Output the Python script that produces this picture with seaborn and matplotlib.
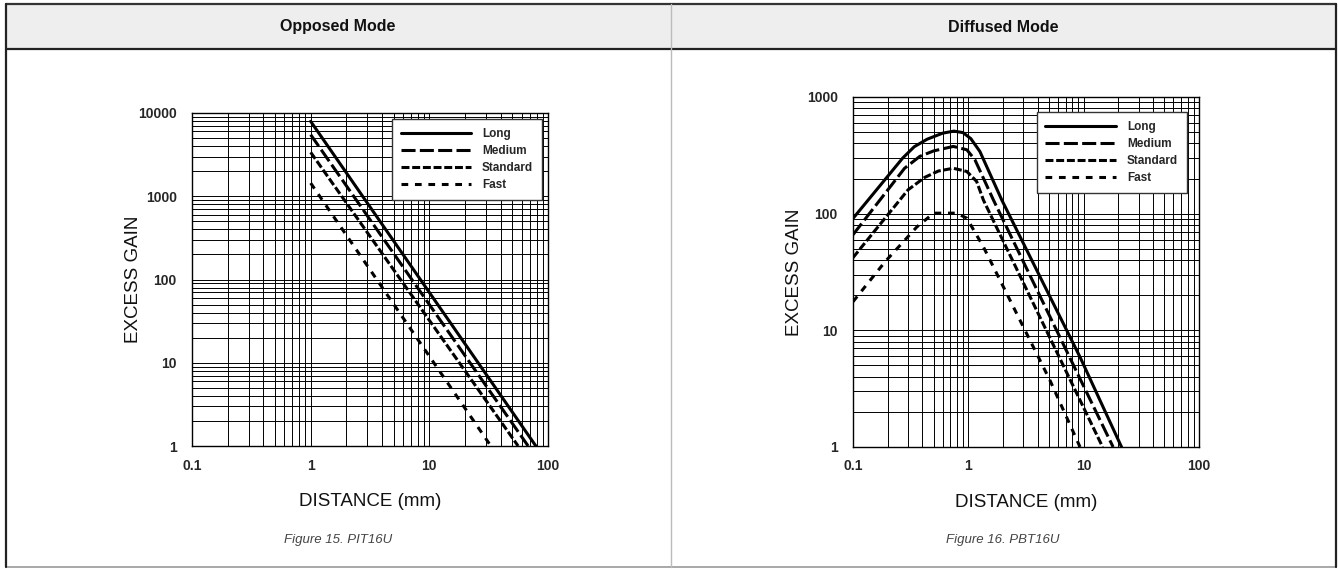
import numpy as np
import pandas as pd
import matplotlib
matplotlib.use("Agg")
import matplotlib.pyplot as plt
from matplotlib.lines import Line2D
from matplotlib.patches import Rectangle
from matplotlib.ticker import LogLocator, FixedLocator, FixedFormatter, NullFormatter
import seaborn as sns

# ---- data ----
modes = ["Long", "Medium", "Standard", "Fast"]

# Opposed mode (PIT16U): straight lines in log-log space
opp_long_x = [1, 79]
opp_long_y = [7940, 1]
opp_medium_x = [1, 68]
opp_medium_y = [5490, 1]
opp_standard_x = [1, 56]
opp_standard_y = [3370, 1]
opp_fast_x = [1, 33]
opp_fast_y = [1440, 1]

# Diffused mode (PBT16U)
dif_long_x = [0.1, 0.27, 0.34, 0.44, 0.6, 0.75, 0.9, 1.05, 1.26, 1.95, 9.3, 21.3]
dif_long_y = [91, 300, 375, 435, 490, 510, 495, 440, 341, 131, 5.9, 1]
dif_medium_x = [0.1, 0.28, 0.38, 0.5, 0.74, 0.97, 1.14, 1.65, 18]
dif_medium_y = [66, 245, 310, 345, 377, 353, 290, 131, 1]
dif_standard_x = [0.1, 0.3, 0.42, 0.55, 0.74, 0.97, 1.18, 1.35, 14.6]
dif_standard_y = [42, 160, 205, 232, 245, 230, 189, 131, 1]
dif_fast_x = [0.1, 0.19, 0.358, 0.5, 0.79, 0.97, 1.35, 1.88, 5.1, 9.3]
dif_fast_y = [17.6, 38.8, 77, 101, 101, 91.5, 52, 27, 3.73, 1]

x_ticks = [0.1, 1, 10, 100]
x_tick_labels = ["0.1", "1", "10", "100"]
opp_y_ticks = [1, 10, 100, 1000, 10000]
opp_y_tick_labels = ["1", "10", "100", "1000", "10000"]
dif_y_ticks = [1, 10, 100, 1000]
dif_y_tick_labels = ["1", "10", "100", "1000"]


def to_frame(series):
    rows = []
    for name, xs, ys in series:
        for x, y in zip(xs, ys):
            rows.append({"mode": name, "distance": x, "gain": y})
    return pd.DataFrame(rows)


opp_df = to_frame([
    ("Long", opp_long_x, opp_long_y),
    ("Medium", opp_medium_x, opp_medium_y),
    ("Standard", opp_standard_x, opp_standard_y),
    ("Fast", opp_fast_x, opp_fast_y),
])
dif_df = to_frame([
    ("Long", dif_long_x, dif_long_y),
    ("Medium", dif_medium_x, dif_medium_y),
    ("Standard", dif_standard_x, dif_standard_y),
    ("Fast", dif_fast_x, dif_fast_y),
])

# ---- style ----
sns.set_style("white")
plt.rcParams["font.family"] = ["Liberation Sans", "DejaVu Sans"]

LW = 2.2
dash_map = {
    "Long": "",
    "Medium": (4.6, 1.4),
    "Standard": (2.6, 0.9),
    "Fast": (2.2, 2.2),
}

W, H = 1338, 569
fig = plt.figure(figsize=(W / 100, H / 100), dpi=100)


def px_rect(x0, y0, x1, y1):
    return [x0 / W, 1 - y1 / H, (x1 - x0) / W, (y1 - y0) / H]


# ---- table frame ----
fig.patches.append(Rectangle((6 / W, 1 - 49 / H), (1336 - 6) / W, 45 / H,
                             transform=fig.transFigure, facecolor="#eeeeee",
                             edgecolor="none", zorder=0))
def hline(y, x0, x1, color, lw):
    fig.add_artist(Line2D([x0 / W, x1 / W], [1 - y / H, 1 - y / H],
                          transform=fig.transFigure, color=color, linewidth=lw))
def vline(x, y0, y1, color, lw):
    fig.add_artist(Line2D([x / W, x / W], [1 - y0 / H, 1 - y1 / H],
                          transform=fig.transFigure, color=color, linewidth=lw))

hline(4, 6, 1336, "#333333", 1.6)
hline(49, 6, 1336, "#222222", 1.6)
hline(567, 6, 1336, "#999999", 1.2)
vline(6, 4, 567, "#222222", 1.6)
vline(1336, 4, 567, "#222222", 1.6)
vline(671, 4, 567, "#bbbbbb", 1.0)

fig.text(338 / W, 1 - 27 / H, "Opposed Mode", ha="center", va="center",
         fontsize=11.5, fontweight="bold", color="#111111")
fig.text(1003 / W, 1 - 27 / H, "Diffused Mode", ha="center", va="center",
         fontsize=11.5, fontweight="bold", color="#111111")
fig.text(338 / W, 1 - 540 / H, "Figure 15. PIT16U", ha="center", va="center",
         fontsize=9.5, style="italic", color="#444444")
fig.text(1003 / W, 1 - 540 / H, "Figure 16. PBT16U", ha="center", va="center",
         fontsize=9.5, style="italic", color="#444444")


def draw_panel(rect, df, yticks, ylabels, ylim, legend_anchor, ylab_x, xlab_y):
    ax = fig.add_axes(rect)
    sns.lineplot(data=df, x="distance", y="gain", style="mode", style_order=modes,
                 dashes=dash_map, color="black", linewidth=LW, sort=False,
                 estimator=None, legend=False, ax=ax)
    ax.set_xscale("log")
    ax.set_yscale("log")
    ax.set_xlim(0.1, 100)
    ax.set_ylim(*ylim)
    ax.xaxis.set_major_locator(FixedLocator(x_ticks))
    ax.xaxis.set_major_formatter(FixedFormatter(x_tick_labels))
    ax.yaxis.set_major_locator(FixedLocator(yticks))
    ax.yaxis.set_major_formatter(FixedFormatter(ylabels))
    ax.xaxis.set_minor_locator(LogLocator(base=10, subs=np.arange(2, 10)))
    ax.yaxis.set_minor_locator(LogLocator(base=10, subs=np.arange(2, 10)))
    ax.xaxis.set_minor_formatter(NullFormatter())
    ax.yaxis.set_minor_formatter(NullFormatter())
    ax.grid(True, which="both", color="black", linewidth=0.7)
    ax.set_axisbelow(True)
    ax.tick_params(which="both", length=0)
    ax.tick_params(axis="x", pad=9)
    ax.tick_params(axis="y", pad=11)
    for lab in ax.get_xticklabels() + ax.get_yticklabels():
        lab.set_fontweight("bold")
        lab.set_fontsize(10)
    for s in ax.spines.values():
        s.set_color("black")
        s.set_linewidth(1.0)
    ax.set_xlabel("DISTANCE (mm)", fontsize=13.5, color="#111111")
    ax.set_ylabel("EXCESS GAIN", fontsize=13.5, color="#111111")
    ax.xaxis.set_label_coords(0.5, xlab_y)
    ax.yaxis.set_label_coords(ylab_x, 0.5)

    handles = [Line2D([], [], color="black", linewidth=LW,
                      dashes=dash_map[m] if dash_map[m] else (None, None))
               for m in modes]
    handles[0].set_linestyle("-")
    leg = ax.legend(handles, modes, loc="upper right", bbox_to_anchor=legend_anchor,
                    borderaxespad=0, frameon=True, fancybox=False, handlelength=6.0,
                    handletextpad=0.9, labelspacing=0.42, borderpad=0.75,
                    prop={"weight": "bold", "size": 8.5})
    leg.get_frame().set_edgecolor("#333333")
    leg.get_frame().set_linewidth(1.0)
    leg.get_frame().set_alpha(1)
    return ax


draw_panel(px_rect(192, 113, 548, 446), opp_df, opp_y_ticks, opp_y_tick_labels,
           (1, 10000), (0.983, 0.982), -0.14, -0.14)
draw_panel(px_rect(853, 97, 1199, 447), dif_df, dif_y_ticks, dif_y_tick_labels,
           (1, 1000), (0.965, 0.957), -0.145, -0.133)

fig.savefig("out.png", dpi=100)
